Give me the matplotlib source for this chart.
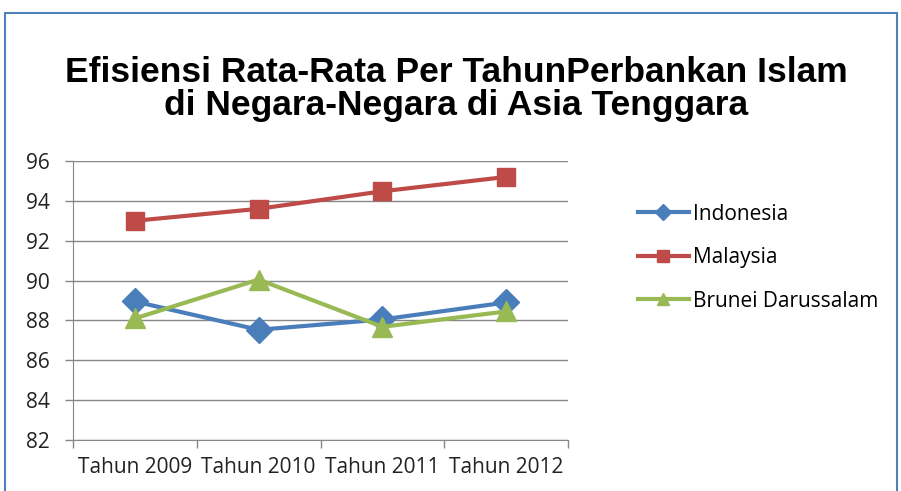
import matplotlib
matplotlib.use("Agg")
import matplotlib.pyplot as plt
from matplotlib.patches import Rectangle
from matplotlib.ticker import FixedLocator

# data
years = ['Tahun 2009', 'Tahun 2010', 'Tahun 2011', 'Tahun 2012']
indonesia = [88.95, 87.53, 88.05, 88.9]
malaysia = [93.0, 93.6, 94.48, 95.2]
brunei = [88.1, 90.05, 87.68, 88.45]
yticks = [82, 84, 86, 88, 90, 92, 94, 96]

blue = '#4A7EBB'
red = '#BE4B48'
green = '#98B954'
grid_c = '#878787'

fig = plt.figure(figsize=(9.01, 4.91), dpi=100)
fig.patches.append(Rectangle((5/901, -0.1), 892/901, 1.1 - 13/491, transform=fig.transFigure,
                             fill=False, edgecolor='#4F81BD', linewidth=1.5))

ax = fig.add_axes([73/901, 1 - 440/491, (568 - 73)/901, (440 - 161)/491])
x = range(len(years))
ax.plot(x, indonesia, color=blue, lw=3, marker='D', ms=13, label='Indonesia')
ax.plot(x, malaysia, color=red, lw=3, marker='s', ms=13, label='Malaysia')
ax.plot(x, brunei, color=green, lw=3, marker='^', ms=14, label='Brunei Darussalam')

ax.set_xlim(-0.5, 3.5)
ax.set_ylim(82, 96)
ax.set_yticks(yticks)
ax.set_xticks(list(x))
ax.set_xticklabels(years)
ax.xaxis.set_minor_locator(FixedLocator([-0.5, 0.5, 1.5, 2.5, 3.5]))
ax.tick_params(axis='x', which='major', length=0, pad=12)
ax.tick_params(axis='x', which='minor', length=6, color=grid_c, width=1)
ax.tick_params(axis='y', length=6, color=grid_c, width=1, pad=11)
ax.yaxis.grid(True, color=grid_c, lw=1)
ax.set_axisbelow(True)
for lab in ax.get_xticklabels() + ax.get_yticklabels():
    lab.set_fontfamily('Open Sans')
    lab.set_fontsize(15)
    lab.set_color('#222222')
for s in ['top', 'right']:
    ax.spines[s].set_visible(False)
for s in ['left', 'bottom']:
    ax.spines[s].set_color(grid_c)

fig.text(456/901, 1 - 89/491, 'Efisiensi Rata-Rata Per TahunPerbankan Islam\ndi Negara-Negara di Asia Tenggara',
         ha='center', va='center', fontsize=25.5, fontweight='bold', family='Liberation Sans', linespacing=1.02)

fig.legend(loc='upper left', bbox_to_anchor=(619/901, 1 - 185/491), frameon=False,
           prop={'family': 'Open Sans', 'size': 15}, handlelength=2.45, handletextpad=0.2,
           labelspacing=1.08, markerscale=0.65)

fig.savefig('out.png', dpi=100)
